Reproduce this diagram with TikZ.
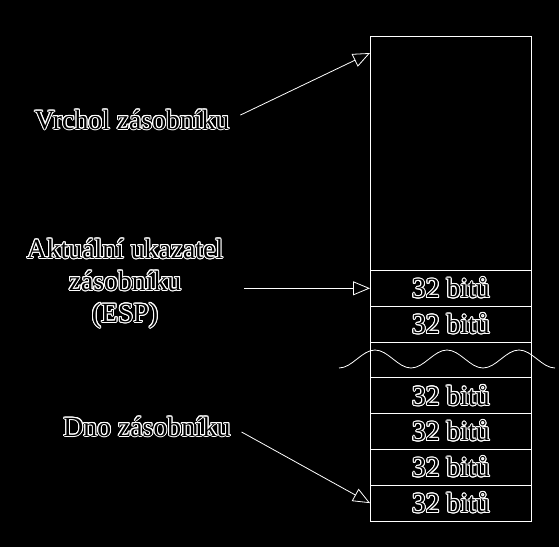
\documentclass[tikz,border=0pt]{standalone}
\usepackage{fontspec}
\setmainfont{Liberation Serif}
\usepackage{contour}
\contourlength{0.75pt}
\usetikzlibrary{arrows.meta, positioning}

\newcommand{\halo}[1]{\contour{white}{#1}}

\begin{document}
\begin{tikzpicture}[x=0.75pt, y=-0.75pt,
    every node/.style={font=\fontsize{20.8pt}{24pt}\selectfont, text=black},
    tag/.style={inner sep=0pt, outer xsep=8.25pt, align=center},
    cell/.style={draw=white!85, line width=0.6pt, anchor=north west,
                 minimum width=120.75pt, minimum height=26.85pt, inner sep=0pt},
    topcell/.style={cell, minimum height=175.5pt},
    pointer/.style={-{Triangle[open, length=12.75pt, width=10.5pt]},
                    draw=white!85, line width=0.6pt}
]

% background and size
\fill[black] (0,0) rectangle (559,547);

% stack
\node[topcell] (top) at (370,36) {};
\node[cell] (c1) at (370,270) {\halo{32 bitů}};
\node[cell] (c2) at (370,305.8) {\halo{32 bitů}};
\node[cell] (gap) at (370,341.6) {};
\node[cell] (c3) at (370,377.4) {\halo{32 bitů}};
\node[cell] (c4) at (370,413.2) {\halo{32 bitů}};
\node[cell] (c5) at (370,449) {\halo{32 bitů}};
\node[cell] (c6) at (370,484.8) {\halo{32 bitů}};

% broken part
\draw[white!85, line width=0.6pt] (339,368)
    \foreach \k in {0,1,2} {
        cos ++(18,-9) sin ++(18,-9) cos ++(18,9) sin ++(18,9)
    };

% labels
\node[tag, anchor=base] (vrchol) at (132,129) {\halo{Vrchol zásobníku}};
\node[tag] (esp) at (125,284) {\halo{Aktuální ukazatel}\\ \halo{zásobníku}\\ \halo{(ESP)}};
\node[tag, anchor=base] (dno) at (147,436) {\halo{Dno zásobníku}};

% pointers
\draw[pointer] ([yshift=3.75pt]vrchol.east) -- ([yshift=-12.75pt]top.north west);
\draw[pointer] ([xshift=7.5pt]esp.east |- c1.west) -- (c1.west);
\draw[pointer] ([yshift=-3.75pt]dno.east) -- (c6.west);

\end{tikzpicture}
\end{document}
